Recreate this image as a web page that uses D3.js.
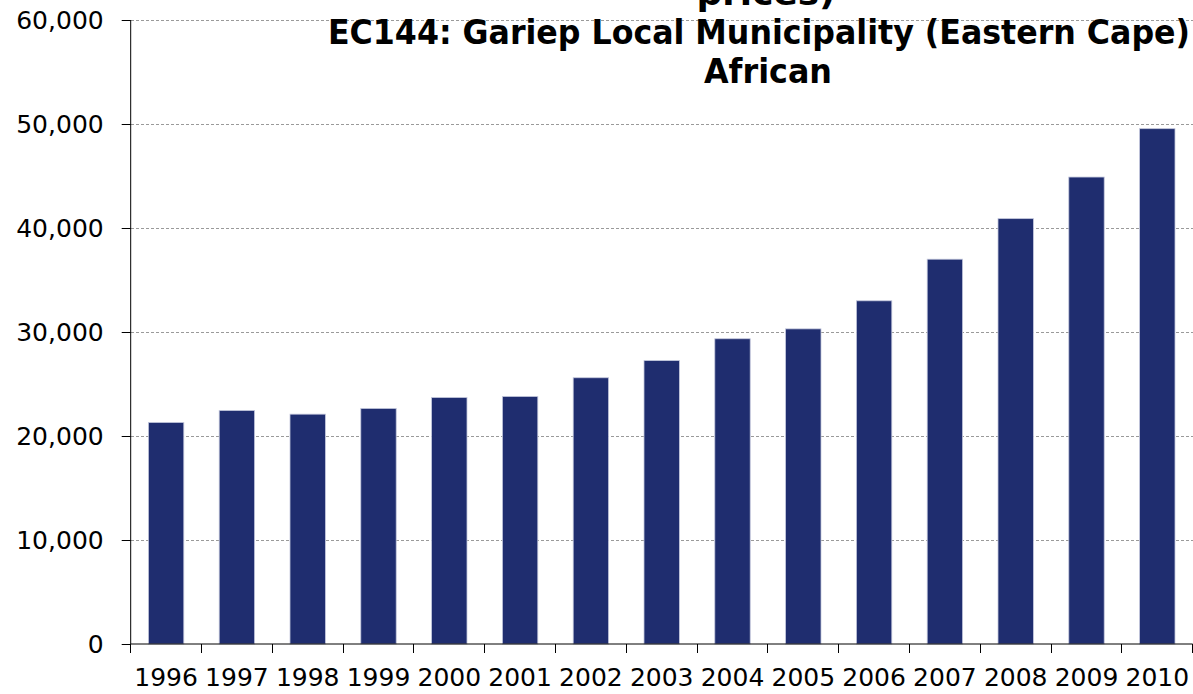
<!DOCTYPE html>
<html>
<head>
<meta charset="utf-8">
<script src="https://cdn.jsdelivr.net/npm/d3@7"></script>
<style>
  html, body { margin: 0; padding: 0; background: #ffffff; }
  svg { display: block; }
</style>
</head>
<body>
<svg id="chart" width="1193" height="694"></svg>
<script>
// Per capita income, EC144 Gariep Local Municipality, African population
const years = ["1996", "1997", "1998", "1999", "2000", "2001", "2002", "2003",
               "2004", "2005", "2006", "2007", "2008", "2009", "2010"];
const income = [21300, 22450, 22100, 22650, 23700, 23800, 25600, 27250,
                29350, 30300, 33000, 37000, 40900, 44900, 49550];
const yTicks = [0, 10000, 20000, 30000, 40000, 50000, 60000];
const titleLines = ["prices)", "EC144: Gariep Local Municipality (Eastern Cape)", "African"];

const svg = d3.select("#chart");
const W = 1193, H = 694;
const plotLeft = 130.7, plotRight = 1192.7, plotTop = 20, plotBottom = 644;

const x = d3.scaleBand().domain(years).range([plotLeft, plotRight])
  .paddingInner(0.5).paddingOuter(0.25);
const y = d3.scaleLinear().domain([0, 60000]).range([plotBottom, plotTop]);

// dashed horizontal gridlines
svg.append("g")
  .selectAll("line")
  .data(yTicks.filter(d => d > 0))
  .join("line")
  .attr("x1", plotLeft).attr("x2", W)
  .attr("y1", d => y(d)).attr("y2", d => y(d))
  .attr("stroke", "#9a9a9a")
  .attr("stroke-width", 1)
  .attr("stroke-dasharray", "3,2")
  .attr("shape-rendering", "crispEdges");

// bars
svg.append("g")
  .selectAll("rect")
  .data(income)
  .join("rect")
  .attr("x", (d, i) => x(years[i]))
  .attr("y", d => y(d))
  .attr("width", x.bandwidth())
  .attr("height", d => y(0) - y(d))
  .attr("fill", "#1f2d6f")
  .attr("stroke", "#c3c7dc")
  .attr("stroke-width", 0.8);

// y axis
const yAxis = d3.axisLeft(y)
  .tickValues(yTicks)
  .tickFormat(d3.format(","))
  .tickSize(9)
  .tickPadding(18);
const gy = svg.append("g").attr("transform", `translate(${plotLeft},0)`).call(yAxis);
gy.select(".domain").attr("stroke", "#000").attr("d", `M0,${plotTop}V${plotBottom}`);
gy.selectAll(".tick line").attr("stroke", "#000");
gy.selectAll(".tick text")
  .attr("fill", "#000")
  .style("font-family", "'DejaVu Sans', Verdana, sans-serif")
  .style("font-size", "25px");

// x axis
const xAxis = d3.axisBottom(x).tickSize(0).tickPadding(24);
const gx = svg.append("g").attr("transform", `translate(0,${plotBottom})`).call(xAxis);
gx.select(".domain").attr("stroke", "#000").attr("d", `M${plotLeft},0H${plotRight}`);
gx.selectAll(".tick text")
  .attr("fill", "#000")
  .style("font-family", "'DejaVu Sans', Verdana, sans-serif")
  .style("font-size", "25px");

// category boundary ticks below the x axis
const step = x.step();
const bounds = d3.range(years.length + 1).map(i => plotLeft + i * step);
svg.append("g")
  .selectAll("line")
  .data(bounds)
  .join("line")
  .attr("x1", d => d).attr("x2", d => d)
  .attr("y1", plotBottom).attr("y2", plotBottom + 9)
  .attr("stroke", "#000")
  .attr("shape-rendering", "crispEdges");

// title, three centred lines (the first one runs off the top edge)
const titleX = [766, 759, 768];
const titleY = [5, 44, 83];
const titleW = [139, 862, 128];
svg.append("g")
  .style("font-family", "'DejaVu Sans Condensed', 'DejaVu Sans', sans-serif")
  .style("font-weight", "bold")
  .style("font-size", "33px")
  .attr("fill", "#000")
  .attr("text-anchor", "middle")
  .selectAll("text")
  .data(titleLines)
  .join("text")
  .attr("x", (d, i) => titleX[i])
  .attr("y", (d, i) => titleY[i])
  .attr("textLength", (d, i) => titleW[i])
  .attr("lengthAdjust", "spacingAndGlyphs")
  .text(d => d);
</script>
</body>
</html>
